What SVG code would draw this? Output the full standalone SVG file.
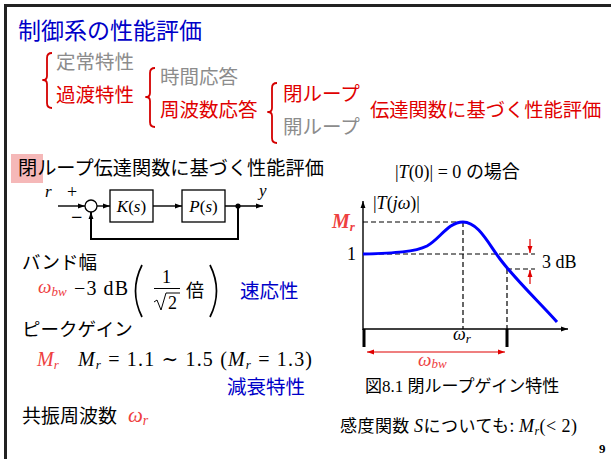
<svg xmlns="http://www.w3.org/2000/svg" width="611" height="459" viewBox="0 0 611 459">
<defs>
<marker id="ah" viewBox="0 0 10 10" refX="10" refY="5" markerWidth="7" markerHeight="7" orient="auto" markerUnits="userSpaceOnUse"><path d="M0,1.5 L10,5 L0,8.5 z" fill="#000"/></marker>
<marker id="ahr" viewBox="0 0 10 10" refX="10" refY="5" markerWidth="7" markerHeight="7" orient="auto" markerUnits="userSpaceOnUse"><path d="M0,1.5 L10,5 L0,8.5 z" fill="#e00000"/></marker>
<marker id="ahrs" viewBox="0 0 10 10" refX="0" refY="5" markerWidth="7" markerHeight="7" orient="auto" markerUnits="userSpaceOnUse"><path d="M10,1.5 L0,5 L10,8.5 z" fill="#e00000"/></marker>
</defs>
<style>
.jp{font-family:"Noto Sans CJK JP","Noto Sans",sans-serif;}
.m{font-family:"Liberation Serif","DejaVu Serif",serif;}
.i{font-style:italic;}
.blue{fill:#0000c8}
.red{fill:#e00000}
.gray{fill:#8c8c8c}
.pink{fill:#ee4040}
.brace{fill:none;stroke:#d40000;stroke-width:1.8;stroke-linejoin:round}
.dash{stroke:#000;stroke-width:1.2;stroke-dasharray:5,3;fill:none}
.ln{stroke:#000;stroke-width:1.4;fill:none}
.box{fill:#fff;stroke:#000;stroke-width:1.3}
</style>
<rect width="611" height="459" fill="#fff"/>
<g id="frame"><path d="M4,5.5 H611 M5.5,4 V459" stroke="#222" stroke-width="3" fill="none"/></g>

<g id="title"><text class="jp blue" x="18" y="39" font-size="23">制御系の性能評価</text></g>

<g id="tree">
<path class="brace" d="M52,53 Q47,53 47,58 L47,76 Q47,80 43,80 Q47,80 47,84 L47,103 Q47,108 52,108"/>
<text class="jp gray" x="56" y="69" font-size="19.5">定常特性</text>
<text class="jp red" x="56" y="102" font-size="19.5">過渡特性</text>
<path class="brace" d="M155,68 Q150,68 150,73 L150,93 Q150,97 146,97 Q150,97 150,101 L150,122 Q150,127 155,127"/>
<text class="jp gray" x="160" y="84" font-size="19.5">時間応答</text>
<text class="jp red" x="160" y="117" font-size="19.5">周波数応答</text>
<path class="brace" d="M277,83 Q272,83 272,88 L272,108 Q272,112 268,112 Q272,112 272,116 L272,138 Q272,143 277,143"/>
<text class="jp red" x="283" y="101" font-size="19.5">閉ループ</text>
<text class="jp gray" x="283" y="134" font-size="19.5">開ループ</text>
<text class="jp red" x="370" y="117" font-size="19.3">伝達関数に基づく性能評価</text>
</g>

<g id="section2">
<rect x="11" y="154" width="32" height="29" fill="#f5b8b8"/>
<text class="jp" x="18" y="175" font-size="19.2" fill="#000">閉ループ伝達関数に基づく性能評価</text>
</g>

<g id="sum">
<circle cx="91" cy="206" r="6" fill="#fff" stroke="#000" stroke-width="1.3"/>
<text class="m" x="67" y="198" font-size="18">+</text>
<text class="m" x="71" y="224" font-size="20" font-weight="bold">−</text>
</g>
<g id="K"><rect class="box" x="110" y="190" width="43" height="32"/><text class="m" x="131.5" y="212" font-size="17" text-anchor="middle"><tspan class="i">K</tspan>(<tspan class="i">s</tspan>)</text></g>
<g id="P"><rect class="box" x="182" y="190" width="43" height="32"/><text class="m" x="203.5" y="212" font-size="17" text-anchor="middle"><tspan class="i">P</tspan>(<tspan class="i">s</tspan>)</text></g>
<g id="labels-bd">
<text class="m i" x="45" y="197" font-size="17">r</text>
<text class="m i" x="259" y="196" font-size="17">y</text>
</g>
<g id="connectors">
<path class="ln" d="M58,206 L85,206" marker-end="url(#ah)"/>
<path class="ln" d="M97,206 L110,206" marker-end="url(#ah)"/>
<path class="ln" d="M153,206 L182,206" marker-end="url(#ah)"/>
<path class="ln" d="M225,206 L263,206" marker-end="url(#ah)"/>
<path d="M238,206 L238,239 L91,239 L91,212" fill="none" stroke="#000" stroke-width="2" marker-end="url(#ah)"/>
<circle cx="238" cy="206" r="2.6" fill="#000"/>
</g>

<g id="bandwidth">
<text class="jp" x="22" y="269" font-size="18.5" fill="#000">バンド幅</text>
<text class="m i pink" x="38" y="293" font-size="19">ω<tspan font-size="13" dy="3">bw</tspan></text>
<text class="m" x="74" y="295" font-size="20" textLength="54" lengthAdjust="spacing">−3 dB</text>
<path d="M142,265 Q129,291 142,317" fill="none" stroke="#000" stroke-width="1.7"/>
<text class="m" x="166.5" y="283" font-size="18" text-anchor="middle">1</text>
<path d="M154,288.5 H180" stroke="#000" stroke-width="1"/>
<path d="M154,302 L157,300 L161,310 L166,293 L180,293" fill="none" stroke="#000" stroke-width="1"/>
<text class="m" x="168" y="309" font-size="18">2</text>
<text class="jp" x="186" y="297" font-size="18" fill="#000">倍</text>
<path d="M210,265 Q223,291 210,317" fill="none" stroke="#000" stroke-width="1.7"/>
<text class="jp blue" x="240" y="298" font-size="19.5">速応性</text>
</g>

<g id="peak">
<text class="jp" x="22" y="336" font-size="18.5" fill="#000">ピークゲイン</text>
<text class="m i pink" x="37" y="366" font-size="20">M<tspan font-size="13" dy="3">r</tspan></text>
<text class="m" x="78" y="366" font-size="20" textLength="234" lengthAdjust="spacing"><tspan class="i">M</tspan><tspan class="i" font-size="13" dy="3">r</tspan><tspan dy="-3"> = 1.1 ∼ 1.5 (</tspan><tspan class="i">M</tspan><tspan class="i" font-size="13" dy="3">r</tspan><tspan dy="-3"> = 1.3)</tspan></text>
<text class="jp blue" x="227" y="394" font-size="19.5">減衰特性</text>
</g>

<g id="resonance">
<text class="jp" x="22" y="423" font-size="19" fill="#000">共振周波数</text>
<text class="m i pink" x="128" y="422" font-size="21">ω<tspan font-size="14" dy="3">r</tspan></text>
</g>

<g id="graph">
<text x="395" y="178" font-size="18"><tspan class="m">|<tspan class="i">T</tspan>(0)| = 0 </tspan><tspan class="jp">の場合</tspan></text>
<path class="ln" d="M363,330 L363,201" marker-end="url(#ah)"/>
<path class="ln" d="M363,329 L568,329" marker-end="url(#ah)"/>
<path d="M364,329 V347 M507,329 V347" stroke="#000" stroke-width="3"/>
<text class="m" x="373" y="209" font-size="18">|<tspan class="i">T</tspan>(<tspan class="i">jω</tspan>)|</text>
<text class="m i" x="332" y="228" font-size="20" font-weight="bold" fill="#ee4040">M<tspan font-size="13" dy="3">r</tspan></text>
<text class="m" x="347" y="260" font-size="18">1</text>
<path class="dash" d="M363,222 H463 M463,222 V329 M363,254 H535 M507,269 H535 M507,269 V329"/>
<path d="M363,254 C395,253 415,252 427,246 C440,239 448,222 463,222 C478,222 488,243 500,259 C515,279 540,303 557,322" fill="none" stroke="#0000ff" stroke-width="3"/>
<path d="M530,239 L530,253" stroke="#e00000" stroke-width="1.2" marker-end="url(#ahr)"/>
<path d="M530,284 L530,270" stroke="#e00000" stroke-width="1.2" marker-end="url(#ahr)"/>
<text class="m" x="542" y="268" font-size="18">3 dB</text>
<text class="m i" x="453" y="340" font-size="18">ω<tspan font-size="13" dy="3">r</tspan></text>
<path d="M367,352 L505,352" stroke="#e00000" stroke-width="1.2" marker-start="url(#ahrs)" marker-end="url(#ahr)"/>
<text class="m i pink" x="418" y="366" font-size="19">ω<tspan font-size="13" dy="2">bw</tspan></text>
<text x="365" y="392" font-size="17"><tspan class="jp">図</tspan><tspan class="m">8.1  </tspan><tspan class="jp">閉ループゲイン特性</tspan></text>
<text x="340" y="432" font-size="17" textLength="237" lengthAdjust="spacing"><tspan class="jp">感度関数 </tspan><tspan class="m i" font-size="18">S</tspan><tspan class="jp">についても: </tspan><tspan class="m i" font-size="18">M</tspan><tspan class="m i" font-size="12" dy="3">r</tspan><tspan class="m" font-size="18" dy="-3">(&lt; 2)</tspan></text>
</g>
<g id="page"><text class="m" x="599" y="453" font-size="13" font-weight="bold">9</text></g>
</svg>
